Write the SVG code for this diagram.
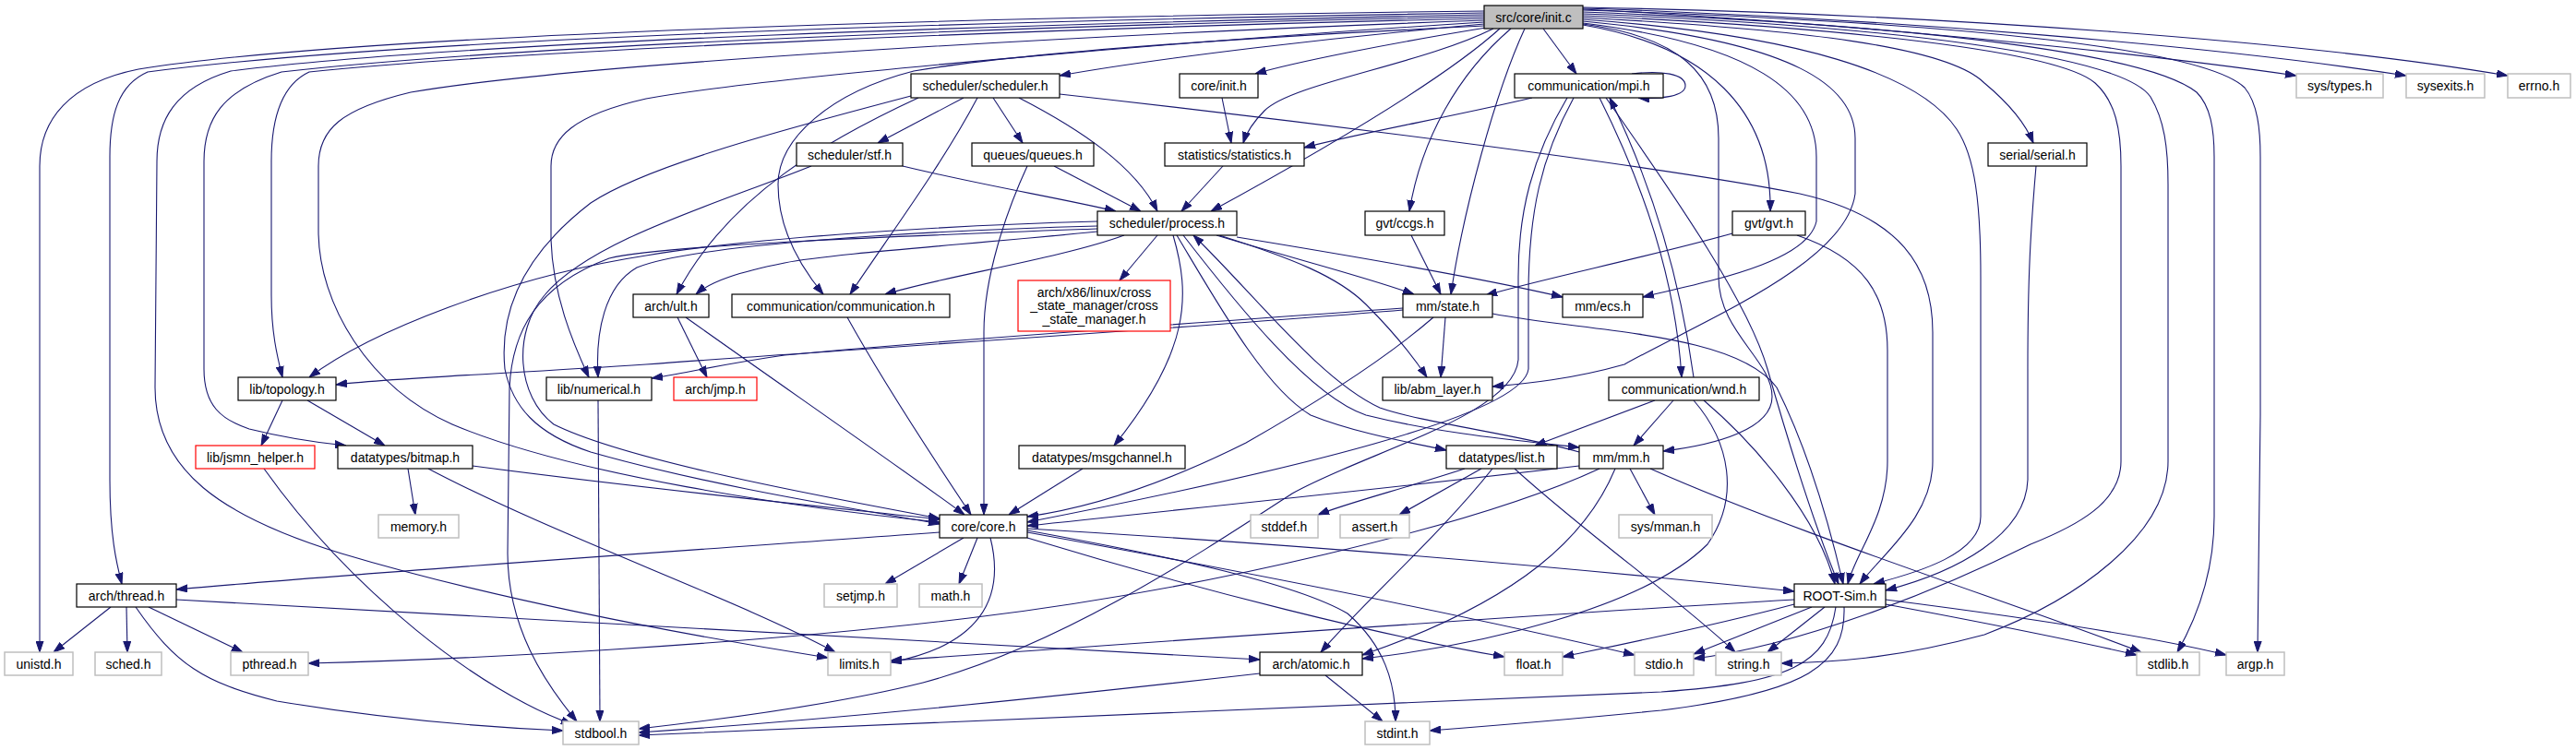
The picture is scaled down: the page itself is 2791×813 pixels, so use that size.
<svg xmlns="http://www.w3.org/2000/svg" width="2791" height="813" viewBox="0 0 2791 813">
<style>
rect{fill:#fff;stroke:#000;stroke-width:1.2}
.g rect{stroke:#bfbfbf;stroke-width:1.5}
.r rect{stroke:#ff0000}
.root rect{fill:#bfbfbf}
text{font-family:"Liberation Sans",Arial,sans-serif;font-size:14px;text-anchor:middle;fill:#000}
#edges path{fill:none;stroke:#191970;stroke-width:1.1;marker-end:url(#a)}
</style>
<defs>
<marker id="a" markerWidth="12" markerHeight="9" refX="12" refY="4.5" orient="auto" markerUnits="userSpaceOnUse">
<path d="M0,0.5 L12,4.5 L0,8.5 z" fill="#191970" stroke="#191970" stroke-width="1"/>
</marker>
</defs>
<rect x="0" y="0" width="2791" height="813" style="fill:#fff;stroke:none"/>
<g id="edges">
<path d="M1608,12 C1100,18 400,35 150,75 C75,90 43,130 43,180 L43,707"/>
<path d="M1608,14 C1100,22 450,40 160,78 C128,92 119,125 119,170 L119,520 C119,580 126,610 132,633"/>
<path d="M1608,16 C1100,26 500,45 250,77 C190,95 170,130 170,175 L168,420 C168,510 240,560 370,600 C520,645 720,685 897,713"/>
<path d="M1608,18 C1100,28 550,50 305,78 C240,98 221,130 221,175 L221,400 C221,440 240,455 270,465 C310,475 345,480 375,483"/>
<path d="M1608,20 C1150,30 550,55 335,78 C305,92 294,130 294,175 L294,320 C294,360 300,385 306,409"/>
<path d="M1608,22 C1250,35 650,65 445,100 C370,118 345,140 345,180 L345,250 C345,330 400,420 490,460 C620,515 860,550 1018,566"/>
<path d="M1608,24 C1350,40 850,80 700,107 C620,125 597,150 597,180 L597,260 C599,320 620,370 638,409"/>
<path d="M1608,26 C1450,40 1260,62 1148,82"/>
<path d="M1610,30 C1500,48 1400,68 1360,80"/>
<path d="M1618,31 C1540,70 1400,90 1370,120 C1358,132 1350,145 1347,155"/>
<path d="M1608,28 C1400,38 1120,55 990,77 C900,100 843,150 843,200 C843,250 868,290 892,319"/>
<path d="M1625,31 C1560,90 1420,170 1312,229"/>
<path d="M1672,31 L1708,80"/>
<path d="M1637,31 C1580,80 1540,150 1527,229"/>
<path d="M1652,31 C1620,100 1585,230 1572,319"/>
<path d="M1715,27 C1850,50 1920,120 1918,229"/>
<path d="M1715,25 C1900,48 1968,100 1968,170 L1968,240 C1958,285 1850,305 1780,322"/>
<path d="M1715,23 C1950,45 2010,95 2010,150 L2010,210 C2000,285 1850,345 1760,395 C1700,412 1650,416 1617,419"/>
<path d="M1715,26 C1820,40 1862,80 1862,150 L1862,300 C1862,360 1920,390 1920,430 C1920,465 1860,482 1802,489"/>
<path d="M1715,21 C1950,38 2080,80 2120,140 C2140,170 2146,220 2146,300 L2146,560 C2146,600 2080,620 2030,633"/>
<path d="M1715,19 C1950,32 2110,50 2150,90 C2180,115 2195,135 2203,155"/>
<path d="M1715,17 C2000,30 2230,55 2270,90 C2292,110 2298,140 2298,180 L2298,500 C2298,545 2250,570 2200,590 C2100,640 1950,700 1835,714"/>
<path d="M1715,15 C2050,28 2300,60 2330,105 C2345,130 2349,160 2349,200 L2349,500 C2349,580 2250,650 2150,688 C2050,715 1980,718 1930,719"/>
<path d="M1715,13 C2100,28 2330,60 2380,100 C2395,115 2399,140 2399,170 L2399,560 C2399,620 2380,670 2359,707"/>
<path d="M1715,11 C2150,25 2390,55 2432,95 C2446,112 2449,140 2449,170 L2449,450 L2446,707"/>
<path d="M1715,10 C2000,25 2300,55 2488,82"/>
<path d="M1715,9 C2050,20 2400,50 2607,82"/>
<path d="M1715,8 C2100,15 2500,45 2717,82"/>
<path d="M1148,102 C1400,130 1800,180 1950,210 C2060,235 2094,290 2094,360 L2094,500 C2094,560 2040,600 2015,633"/>
<path d="M1947,255 C2020,280 2045,320 2045,380 L2045,500 C2045,560 2010,600 2002,633"/>
<path d="M1846,434 C1900,480 1970,560 1988,633"/>
<path d="M1740,106 C1820,220 1895,330 1915,400 C1935,470 1962,560 1992,633"/>
<path d="M1617,340 C1720,360 1880,360 1925,420 C1955,480 1980,560 1997,633"/>
<path d="M2206,180 C2200,250 2197,300 2197,400 L2197,520 C2195,580 2120,620 2043,640"/>
<path d="M1660,106 C1580,125 1470,145 1413,160"/>
<path d="M1768,80 C1800,76 1826,80 1826,93 C1826,104 1800,108 1775,106"/>
<path d="M1733,106 C1780,200 1815,300 1822,409"/>
<path d="M1835,409 C1820,300 1790,200 1744,106"/>
<path d="M1705,106 C1670,170 1656,230 1656,320 L1656,400 C1650,450 1400,510 1113,566"/>
<path d="M1698,106 C1660,170 1645,230 1645,300 L1645,390 C1640,450 1480,490 1400,535 C1300,600 1150,700 1000,740 C900,765 780,780 692,790"/>
<path d="M1044,106 L951,155"/>
<path d="M1059,106 C1020,180 960,260 921,319"/>
<path d="M1076,106 L1108,155"/>
<path d="M1104,106 C1170,140 1230,180 1254,229"/>
<path d="M995,106 C900,150 790,210 733,319"/>
<path d="M987,104 C850,140 700,180 640,220 C575,270 540,330 547,400 C555,440 580,470 640,490 C780,530 950,555 1018,568"/>
<path d="M879,180 C780,220 640,260 590,320 C555,360 560,430 600,460 C680,500 900,540 1018,562"/>
<path d="M978,180 C1060,200 1150,215 1209,229"/>
<path d="M1142,180 L1236,229"/>
<path d="M1113,180 C1090,230 1066,300 1066,360 L1066,558"/>
<path d="M1324,106 L1334,155"/>
<path d="M1325,180 L1280,229"/>
<path d="M1189,240 C1000,245 800,260 700,277 C550,300 400,360 335,409"/>
<path d="M1189,245 C1000,250 750,265 690,290 C655,310 645,360 648,409"/>
<path d="M1189,248 C1000,255 720,265 660,280 C580,310 555,360 552,420 L550,600 C550,680 590,740 625,782"/>
<path d="M1189,251 C1050,265 900,275 850,285 C800,295 770,305 754,319"/>
<path d="M1218,255 C1150,280 1020,300 959,319"/>
<path d="M1254,255 L1213,304"/>
<path d="M1271,255 C1290,320 1290,380 1207,483"/>
<path d="M1275,255 C1320,330 1370,420 1420,450 C1470,470 1530,480 1567,488"/>
<path d="M1282,255 C1340,330 1420,430 1480,450 C1560,470 1650,478 1711,485"/>
<path d="M1711,490 C1650,472 1540,458 1495,442 C1430,412 1360,320 1293,255"/>
<path d="M1318,255 C1400,280 1480,300 1532,319"/>
<path d="M1321,255 C1400,280 1450,300 1480,330 C1510,360 1530,385 1546,409"/>
<path d="M1340,257 C1450,275 1600,300 1693,322"/>
<path d="M1520,336 C1300,355 900,380 700,395 C550,405 420,410 364,417"/>
<path d="M1520,334 C1300,350 1000,370 850,385 C780,395 740,405 706,410"/>
<path d="M1553,344 C1500,390 1420,440 1350,480 C1250,530 1170,552 1113,560"/>
<path d="M1566,344 L1561,409"/>
<path d="M1529,255 L1561,319"/>
<path d="M1877,253 C1780,280 1680,300 1610,320"/>
<path d="M734,344 L766,409"/>
<path d="M743,344 C850,420 980,510 1045,558"/>
<path d="M918,344 C960,420 1020,510 1052,558"/>
<path d="M1173,508 L1093,558"/>
<path d="M306,434 L283,483"/>
<path d="M333,434 L417,483"/>
<path d="M286,508 C380,640 520,750 620,785"/>
<path d="M442,508 L450,558"/>
<path d="M512,505 C700,530 900,550 1018,563"/>
<path d="M464,508 C600,580 800,650 905,707"/>
<path d="M648,434 L650,782"/>
<path d="M1044,583 L959,633"/>
<path d="M1059,583 L1039,633"/>
<path d="M1073,583 C1090,650 1060,700 965,718"/>
<path d="M1018,577 C700,600 400,620 191,639"/>
<path d="M1113,573 C1400,590 1700,615 1944,641"/>
<path d="M1113,577 C1350,620 1600,670 1771,710"/>
<path d="M1113,575 C1250,600 1400,630 1460,665 C1500,700 1512,740 1512,782"/>
<path d="M1113,583 C1300,640 1500,690 1630,712"/>
<path d="M1587,508 C1520,530 1460,545 1428,558"/>
<path d="M1605,508 L1516,558"/>
<path d="M1617,508 C1560,580 1480,650 1431,707"/>
<path d="M1641,508 C1720,580 1820,650 1880,707"/>
<path d="M1793,434 L1663,483"/>
<path d="M1813,434 L1770,483"/>
<path d="M1835,434 C1875,480 1885,540 1850,590 C1780,660 1600,700 1476,714"/>
<path d="M1711,505 C1500,530 1300,550 1113,570"/>
<path d="M1733,508 C1600,570 1300,640 1050,670 C800,700 500,715 334,719"/>
<path d="M1750,508 C1720,580 1650,650 1476,710"/>
<path d="M1766,508 L1793,558"/>
<path d="M1788,508 C1950,580 2200,660 2320,707"/>
<path d="M1944,650 C1600,670 1200,700 965,716"/>
<path d="M1963,658 L1835,709"/>
<path d="M1977,658 L1915,707"/>
<path d="M1944,655 C1850,680 1750,700 1693,712"/>
<path d="M1989,658 C1980,720 1940,740 1800,750 C1400,770 1000,785 692,797"/>
<path d="M1998,658 C2000,720 1960,750 1800,770 C1700,780 1600,788 1549,792"/>
<path d="M2043,655 C2150,675 2250,695 2315,710"/>
<path d="M2043,650 C2200,670 2330,690 2412,710"/>
<path d="M120,658 L58,707"/>
<path d="M137,658 L138,707"/>
<path d="M161,658 L263,707"/>
<path d="M147,658 C190,720 220,740 300,760 C420,780 520,788 610,792"/>
<path d="M191,650 C600,670 1000,695 1365,715"/>
<path d="M1436,732 L1498,782"/>
<path d="M1365,730 C1100,760 900,780 692,794"/>
</g>
<g id="n_init" class="root"><rect x="1608" y="6" width="107" height="25"/><text x="1661.5" y="23.5">src/core/init.c</text></g>
<g id="n_scheduler"><rect x="987" y="80" width="161" height="26"/><text x="1067.5" y="98">scheduler/scheduler.h</text></g>
<g id="n_coreinit"><rect x="1278" y="80" width="85" height="26"/><text x="1320.5" y="98">core/init.h</text></g>
<g id="n_mpi"><rect x="1641" y="80" width="161" height="26"/><text x="1721.5" y="98">communication/mpi.h</text></g>
<g id="n_systypes" class="g"><rect x="2488" y="80" width="94" height="26"/><text x="2535" y="98">sys/types.h</text></g>
<g id="n_sysexits" class="g"><rect x="2607" y="80" width="85" height="26"/><text x="2649.5" y="98">sysexits.h</text></g>
<g id="n_errno" class="g"><rect x="2717" y="80" width="68" height="26"/><text x="2751" y="98">errno.h</text></g>
<g id="n_stf"><rect x="863" y="155" width="115" height="25"/><text x="920.5" y="172.5">scheduler/stf.h</text></g>
<g id="n_queues"><rect x="1053" y="155" width="132" height="25"/><text x="1119" y="172.5">queues/queues.h</text></g>
<g id="n_stats"><rect x="1262" y="155" width="151" height="25"/><text x="1337.5" y="172.5">statistics/statistics.h</text></g>
<g id="n_serial"><rect x="2154" y="155" width="107" height="25"/><text x="2207.5" y="172.5">serial/serial.h</text></g>
<g id="n_process"><rect x="1189" y="229" width="151" height="26"/><text x="1264.5" y="247">scheduler/process.h</text></g>
<g id="n_ccgs"><rect x="1479" y="229" width="86" height="26"/><text x="1522" y="247">gvt/ccgs.h</text></g>
<g id="n_gvt"><rect x="1877" y="229" width="79" height="26"/><text x="1916.5" y="247">gvt/gvt.h</text></g>
<g id="n_ult"><rect x="686" y="319" width="82" height="25"/><text x="727" y="336.5">arch/ult.h</text></g>
<g id="n_comm"><rect x="793" y="319" width="236" height="25"/><text x="911" y="336.5">communication/communication.h</text></g>
<g id="n_csm" class="r"><rect x="1103" y="304" width="165" height="55"/><text x="1185.5" y="321.5">arch/x86/linux/cross</text><text x="1185.5" y="336">_state_manager/cross</text><text x="1185.5" y="350.5">_state_manager.h</text></g>
<g id="n_state"><rect x="1520" y="319" width="97" height="25"/><text x="1568.5" y="336.5">mm/state.h</text></g>
<g id="n_ecs"><rect x="1693" y="319" width="87" height="25"/><text x="1736.5" y="336.5">mm/ecs.h</text></g>
<g id="n_topology"><rect x="258" y="409" width="106" height="25"/><text x="311" y="426.5">lib/topology.h</text></g>
<g id="n_numerical"><rect x="592" y="409" width="114" height="25"/><text x="649" y="426.5">lib/numerical.h</text></g>
<g id="n_jmp" class="r"><rect x="730" y="409" width="90" height="25"/><text x="775" y="426.5">arch/jmp.h</text></g>
<g id="n_abm"><rect x="1498" y="409" width="119" height="25"/><text x="1557.5" y="426.5">lib/abm_layer.h</text></g>
<g id="n_wnd"><rect x="1743" y="409" width="163" height="25"/><text x="1824.5" y="426.5">communication/wnd.h</text></g>
<g id="n_jsmn" class="r"><rect x="212" y="483" width="129" height="25"/><text x="276.5" y="500.5">lib/jsmn_helper.h</text></g>
<g id="n_bitmap"><rect x="366" y="483" width="146" height="25"/><text x="439" y="500.5">datatypes/bitmap.h</text></g>
<g id="n_msgchannel"><rect x="1104" y="483" width="180" height="25"/><text x="1194" y="500.5">datatypes/msgchannel.h</text></g>
<g id="n_list"><rect x="1567" y="483" width="120" height="25"/><text x="1627" y="500.5">datatypes/list.h</text></g>
<g id="n_mm"><rect x="1711" y="483" width="91" height="25"/><text x="1756.5" y="500.5">mm/mm.h</text></g>
<g id="n_memory" class="g"><rect x="410" y="558" width="87" height="25"/><text x="453.5" y="575.5">memory.h</text></g>
<g id="n_core"><rect x="1018" y="558" width="95" height="25"/><text x="1065.5" y="575.5">core/core.h</text></g>
<g id="n_stddef" class="g"><rect x="1355" y="558" width="73" height="25"/><text x="1391.5" y="575.5">stddef.h</text></g>
<g id="n_assert" class="g"><rect x="1452" y="558" width="75" height="25"/><text x="1489.5" y="575.5">assert.h</text></g>
<g id="n_mman" class="g"><rect x="1754" y="558" width="101" height="25"/><text x="1804.5" y="575.5">sys/mman.h</text></g>
<g id="n_thread"><rect x="83" y="633" width="108" height="25"/><text x="137" y="650.5">arch/thread.h</text></g>
<g id="n_setjmp" class="g"><rect x="893" y="633" width="79" height="25"/><text x="932.5" y="650.5">setjmp.h</text></g>
<g id="n_math" class="g"><rect x="996" y="633" width="68" height="25"/><text x="1030" y="650.5">math.h</text></g>
<g id="n_rootsim"><rect x="1944" y="633" width="99" height="25"/><text x="1993.5" y="650.5">ROOT-Sim.h</text></g>
<g id="n_unistd" class="g"><rect x="5" y="707" width="74" height="25"/><text x="42" y="724.5">unistd.h</text></g>
<g id="n_sched" class="g"><rect x="103" y="707" width="72" height="25"/><text x="139" y="724.5">sched.h</text></g>
<g id="n_pthread" class="g"><rect x="250" y="707" width="84" height="25"/><text x="292" y="724.5">pthread.h</text></g>
<g id="n_limits" class="g"><rect x="897" y="707" width="68" height="25"/><text x="931" y="724.5">limits.h</text></g>
<g id="n_atomic"><rect x="1365" y="707" width="111" height="25"/><text x="1420.5" y="724.5">arch/atomic.h</text></g>
<g id="n_float" class="g"><rect x="1630" y="707" width="63" height="25"/><text x="1661.5" y="724.5">float.h</text></g>
<g id="n_stdio" class="g"><rect x="1771" y="707" width="64" height="25"/><text x="1803" y="724.5">stdio.h</text></g>
<g id="n_string" class="g"><rect x="1859" y="707" width="71" height="25"/><text x="1894.5" y="724.5">string.h</text></g>
<g id="n_stdlib" class="g"><rect x="2315" y="707" width="68" height="25"/><text x="2349" y="724.5">stdlib.h</text></g>
<g id="n_argp" class="g"><rect x="2412" y="707" width="63" height="25"/><text x="2443.5" y="724.5">argp.h</text></g>
<g id="n_stdbool" class="g"><rect x="610" y="782" width="82" height="25"/><text x="651" y="799.5">stdbool.h</text></g>
<g id="n_stdint" class="g"><rect x="1479" y="782" width="70" height="25"/><text x="1514" y="799.5">stdint.h</text></g>
</svg>
